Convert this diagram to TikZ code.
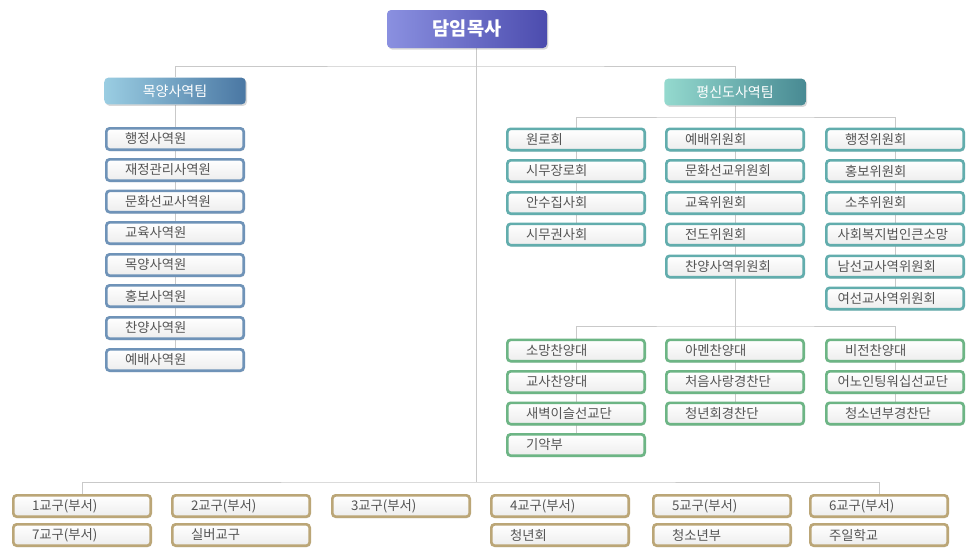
\documentclass[tikz,border=0pt]{standalone}
\usepackage{fontspec}
\setmainfont{Noto Sans CJK KR}
\usetikzlibrary{shadows,backgrounds}
\definecolor{linegray}{HTML}{C9C9C9}
\definecolor{txt}{HTML}{555555}
\definecolor{blueB}{HTML}{6F93B8}
\definecolor{tealB}{HTML}{62ADAD}
\definecolor{greenB}{HTML}{6DB585}
\definecolor{tanB}{HTML}{BBA677}
\definecolor{tpL}{HTML}{8A90E0}
\definecolor{tpR}{HTML}{4C4CAE}
\definecolor{lbL}{HTML}{9ACDE2}
\definecolor{lbR}{HTML}{4A77A3}
\definecolor{ltL}{HTML}{94D9CE}
\definecolor{ltR}{HTML}{488A93}
\tikzset{
  conn/.style={draw=linegray, line width=0.6pt},
  box/.style={draw, line width=2pt, rounded corners=2.5pt, top color=white, bottom color=black!7,
    minimum height=16pt, text width=75pt, inner xsep=14pt, inner ysep=2pt, align=left,
    font=\fontsize{10}{12}\selectfont, text=txt,
    drop shadow={shadow xshift=0.8pt, shadow yshift=-1pt, opacity=0.25}},
  wide/.style={text width=86pt, inner xsep=8.5pt},
  bluebox/.style={box, draw=blueB},
  tealbox/.style={box, draw=tealB},
  greenbox/.style={box, draw=greenB},
  tanbox/.style={box, draw=tanB},
  topbox/.style={rounded corners=3pt, left color=tpL, right color=tpR,
    minimum width=120pt, minimum height=28.5pt, text=white, font=\fontsize{14}{16}\selectfont\bfseries,
    drop shadow={shadow xshift=1pt, shadow yshift=-1.2pt, opacity=0.3}},
  teambox/.style={rounded corners=3pt, minimum width=106pt, minimum height=20pt, text=white,
    font=\fontsize{10.5}{12}\selectfont, drop shadow={shadow xshift=1pt, shadow yshift=-1.2pt, opacity=0.3}},
}
\begin{document}
\begin{tikzpicture}[x=0.75pt,y=-0.75pt]
\useasboundingbox (0,0) rectangle (967,550);

\node[topbox] (top) at (467,29) {담임목사};
\node[teambox, left color=lbL, right color=lbR] (L) at (175,91) {목양사역팀};
\node[teambox, left color=ltL, right color=ltR] (R) at (735,92) {평신도사역팀};

% left column
\node[bluebox] (l1) at (175,139) {행정사역원};
\node[bluebox] (l2) at (175,170) {재정관리사역원};
\node[bluebox] (l3) at (175,201.5) {문화선교사역원};
\node[bluebox] (l4) at (175,233) {교육사역원};
\node[bluebox] (l5) at (175,265) {목양사역원};
\node[bluebox] (l6) at (175,296) {홍보사역원};
\node[bluebox] (l7) at (175,328) {찬양사역원};
\node[bluebox] (l8) at (175,360) {예배사역원};

% right committees
\node[tealbox] (a1) at (576,139.5) {원로회};
\node[tealbox] (a2) at (576,171) {시무장로회};
\node[tealbox] (a3) at (576,203) {안수집사회};
\node[tealbox] (a4) at (576,234.5) {시무권사회};
\node[tealbox] (b1) at (735,139.5) {예배위원회};
\node[tealbox] (b2) at (735,171) {문화선교위원회};
\node[tealbox] (b3) at (735,203) {교육위원회};
\node[tealbox] (b4) at (735,234.5) {전도위원회};
\node[tealbox] (b5) at (735,266.5) {찬양사역위원회};
\node[tealbox] (c1) at (895,139.5) {행정위원회};
\node[tealbox] (c2) at (895,171) {홍보위원회};
\node[tealbox] (c3) at (895,203) {소추위원회};
\node[tealbox, wide] (c4) at (895,234.5) {사회복지법인큰소망};
\node[tealbox, wide] (c5) at (895,266.5) {남선교사역위원회};
\node[tealbox, wide] (c6) at (895,298.5) {여선교사역위원회};

% choirs
\node[greenbox] (d1) at (576,350.5) {소망찬양대};
\node[greenbox] (d2) at (576,382) {교사찬양대};
\node[greenbox] (d3) at (576,413.5) {새벽이슬선교단};
\node[greenbox] (d4) at (576,445) {기악부};
\node[greenbox] (e1) at (735,350.5) {아멘찬양대};
\node[greenbox] (e2) at (735,382) {처음사랑경찬단};
\node[greenbox] (e3) at (735,413.5) {청년회경찬단};
\node[greenbox] (f1) at (895,350.5) {비전찬양대};
\node[greenbox, wide] (f2) at (895,382) {어노인팅워십선교단};
\node[greenbox] (f3) at (895,413.5) {청소년부경찬단};

% bottom
\node[tanbox] (g1) at (82,506) {1교구(부서)};
\node[tanbox] (g2) at (241,506) {2교구(부서)};
\node[tanbox] (g3) at (401,506) {3교구(부서)};
\node[tanbox] (g4) at (560,506) {4교구(부서)};
\node[tanbox] (g5) at (722,506) {5교구(부서)};
\node[tanbox] (g6) at (879,506) {6교구(부서)};
\node[tanbox] (h1) at (82,535) {7교구(부서)};
\node[tanbox] (h2) at (241,535) {실버교구};
\node[tanbox] (h4) at (560,535) {청년회};
\node[tanbox] (h5) at (722,535) {청소년부};
\node[tanbox] (h6) at (879,535) {주일학교};

\coordinate (j1) at (476,66);
\coordinate (bend) at (476,482);
\coordinate (j2) at (735,117);
\coordinate (j3) at (735,326);

\begin{scope}[on background layer]
\fill[white] (0,0) rectangle (967,550);
\draw[conn] (top.south -| j1) -- (bend);
\draw[conn] (L) |- (j1) -| (R);
\draw[conn] (L) -- (l8);
\draw[conn] (R) -- (b5) -- (j3);
\draw[conn] (a4) |- (j2) -| (c6);
\draw[conn] (d4) |- (j3) -| (f3);
\draw[conn] (j3) -- (e3);
\draw[conn] (g1) |- (bend) -| (g6);
\end{scope}
\end{tikzpicture}
\end{document}
